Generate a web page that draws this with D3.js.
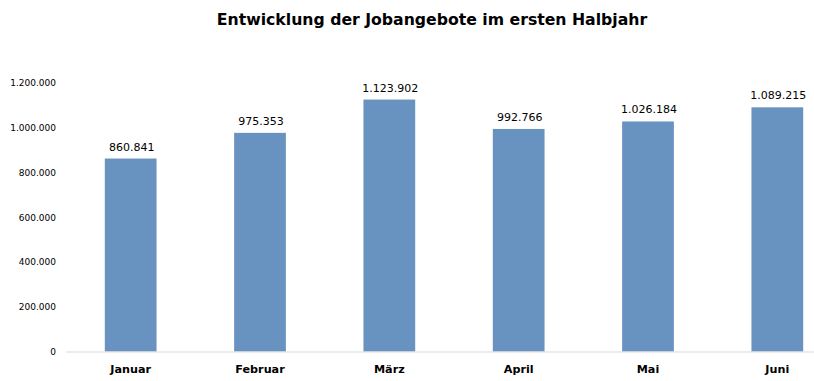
<!DOCTYPE html>
<html><head><meta charset="utf-8">
<script src="https://cdn.jsdelivr.net/npm/d3@7"></script>
<style>html,body{margin:0;padding:0;background:#fff;overflow:hidden}</style>
</head><body>
<svg id="chart" width="814" height="381"></svg>
<script>
const title = "Entwicklung der Jobangebote im ersten Halbjahr";
const categories = ["Januar","Februar","März","April","Mai","Juni"];
const values = [860841, 975353, 1123902, 992766, 1026184, 1089215];
const yTicks = [0, 200000, 400000, 600000, 800000, 1000000, 1200000];

const svg = d3.select("#chart");
const fmt = v => d3.format(",")(v).replace(/,/g, ".");

const x = d3.scaleBand().domain(categories).range([66, 842]).paddingInner(0.6).paddingOuter(0.3);
const y = d3.scaleLinear().domain([0, 1200000]).range([351.5, 82.5]);

svg.append("text").attr("x", 432).attr("y", 24.5).attr("text-anchor", "middle")
  .attr("font-family", "DejaVu Sans").attr("font-weight", "bold").attr("font-size", 15.7)
  .attr("fill", "#000").text(title);

// y axis labels
const yAxis = d3.axisLeft(y).tickValues(yTicks).tickFormat(fmt).tickSize(0).tickPadding(0);
const ya = svg.append("g").attr("transform", "translate(56,0)").call(yAxis);
ya.select(".domain").remove();
ya.selectAll("text").attr("font-family", "DejaVu Sans").attr("font-size", 9).attr("fill", "#000").attr("dy", "0.35em");

// bars
svg.append("g").selectAll("rect").data(values).join("rect")
  .attr("x", (d, i) => x(categories[i]))
  .attr("width", x.bandwidth())
  .attr("y", d => y(d))
  .attr("height", d => y(0) - y(d))
  .attr("fill", "#6892bf");

// baseline
const xAxis = d3.axisBottom(x).tickSize(0).tickPadding(14);
const xa = svg.append("g").attr("transform", `translate(0,${y(0)})`).call(xAxis);
xa.select(".domain").attr("stroke", "#d9d9d9").attr("stroke-width", 1.2);
xa.selectAll("text").attr("font-family", "DejaVu Sans").attr("font-weight", "bold")
  .attr("font-size", 11.2).attr("fill", "#000");

// value labels
svg.append("g").selectAll("text").data(values).join("text")
  .attr("x", (d, i) => x(categories[i]) + x.bandwidth() / 2 + 1)
  .attr("y", d => y(d) - 8)
  .attr("text-anchor", "middle")
  .attr("font-family", "DejaVu Sans").attr("font-size", 11).attr("fill", "#000")
  .text(d => fmt(d));
</script>
</body></html>
